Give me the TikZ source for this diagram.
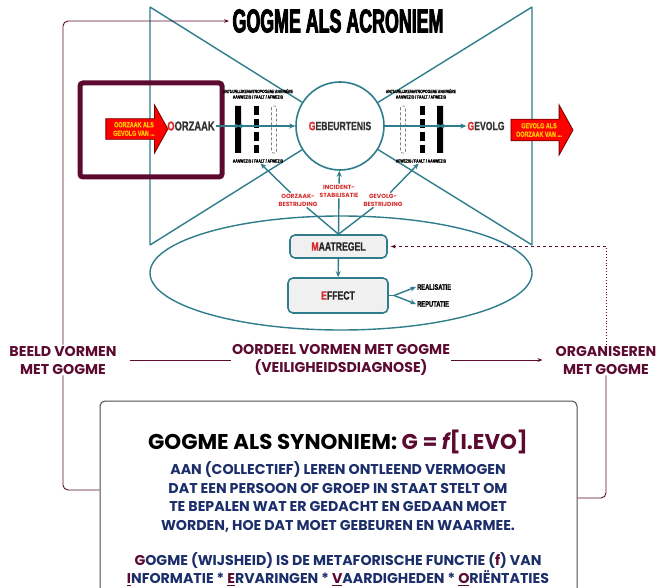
\documentclass[tikz,border=0pt]{standalone}
\usepackage{fontspec}
\setmainfont{Poppins}
\newfontfamily\smal[FakeStretch=0.72,FakeBold=1]{Liberation Sans Bold}
\newfontfamily\smali[FakeStretch=0.72,FakeBold=1]{Liberation Sans Bold Italic}
\newfontfamily\impact[FakeStretch=0.54,FakeBold=2.5]{Liberation Sans Bold}
\usetikzlibrary{arrows.meta,shapes.arrows}
\definecolor{petrol}{HTML}{2F7C8C}
\definecolor{wijn}{HTML}{5C0A30}
\definecolor{rood}{HTML}{D42A2A}
\definecolor{marine}{HTML}{1B2E6A}
\definecolor{balk}{HTML}{F0F0F0}
\newcommand\ond[1]{{\color{wijn}\underline{#1}}}
\tikzset{
  lijn/.style={petrol,line width=1.4pt},
  pijl/.style={lijn,-{Stealth[length=6pt,width=5pt]}},
  terug/.style={wijn,line width=0.9pt,rounded corners=5pt},
  kader/.style={draw=petrol,line width=1.6pt,fill=balk,rounded corners=5pt,
    font=\smal\fontsize{12}{12}\selectfont,text=black!85},
  rode/.style={single arrow,draw=red!45!black,fill=red,line width=.8pt,
    text={rgb,255:red,255;green,200;blue,0},align=center,inner sep=1pt,
    font=\smal\fontsize{7.5}{8.5}\selectfont,single arrow tip angle=122,
    single arrow head extend=11pt,single arrow head indent=0pt},
  stap/.style={text=rood,font=\bfseries\fontsize{6}{8}\selectfont,align=center,inner sep=1pt},
  klein/.style={font=\smal\fontsize{4.7}{5}\selectfont,inner sep=0.5pt},
  naam/.style={font=\smal\fontsize{12}{12}\selectfont,text=black!80,inner sep=1pt},
  kop/.style={wijn,font=\bfseries\fontsize{14.2}{18}\selectfont,align=center,inner sep=1pt},
  blauw/.style={marine,font=\bfseries\fontsize{14.2}{18.5}\selectfont,align=center}
}
\begin{document}
\begin{tikzpicture}[x=1pt,y=-1pt]
\useasboundingbox (0,0) rectangle (658,588);
% acroniem
\node[circle,draw=petrol,line width=1.6pt,minimum size=88pt,inner sep=0pt,naam] (ge) at (340,126) {{\color{rood}G}EBEURTENIS};
\draw[lijn] (150,7) -- (150,245) (532,7) -- (532,245)
  (150,7) -- (ge) (150,245) -- (ge) (532,7) -- (ge) (532,245) -- (ge);
\draw[lijn] (341,273) ellipse [x radius=191, y radius=57];
\node[font=\impact\fontsize{33}{33}\selectfont] (ac) at (338,21) {GOGME ALS ACRONIEM};
\draw[wijn,line width=5pt,rounded corners=3pt] (80,83) rectangle (222,177);
\node[naam,font=\smal\fontsize{13}{13}\selectfont] (oz) at (191,126) {{\color{rood}O}ORZAAK};
\node[naam] (gv) at (486,126) {{\color{rood}G}EVOLG};
\node[rode,minimum height=62pt,minimum width=48pt] (oa) at (134,129) {OORZAAK ALS\\GEVOLG VAN ...};
\node[rode,minimum height=62pt,minimum width=50pt] (ga) at (539,130) {GEVOLG ALS\\OORZAAK VAN ...};
% barrieres
\fill (235,106) rectangle (241,153) (437,106) rectangle (443,153);
\draw[line width=5pt,dash pattern=on 9pt off 4pt] (256,106) -- (256,153) (422,106) -- (422,153);
\draw[gray,densely dashed,line width=.6pt,rounded corners=1.5pt] (271.5,106) rectangle (276.5,153) (400.5,106) rectangle (405.5,153);
\node[klein,font=\smali\fontsize{4.7}{5}\selectfont] (lnat) at (258,91) {NATUURLIJKE/ANTROPOGENE BARRIÈRE};
\node[klein] (lsta) at (258,97) {AANWEZIG / FAALT / AFWEZIG};
\node[klein] (lond) at (258,161) {AANWEZIG / FAALT / AFWEZIG};
\node[klein,font=\smali\fontsize{4.7}{5}\selectfont] (rnat) at (421,91) {NATUURLIJKE/ANTROPOGENE BARRIÈRE};
\node[klein] (rsta) at (421,97) {AANWEZIG / FAALT / AFWEZIG};
\node[klein] (rond) at (421,161) {AFWEZIG / FAALT / AANWEZIG};
\draw[pijl] (oz) -- (ge);
\draw[pijl] (ge) -- (gv);
\fill[petrol] (236,126) circle[radius=2pt] (241,126) circle[radius=2pt]
  (438,126) circle[radius=2pt] (443,126) circle[radius=2pt];
% maatregel en effect
\node[kader,minimum width=97pt,minimum height=23pt] (mr) at (338.5,246.5) {{\color{rood}M}AATREGEL};
\node[kader,minimum width=100pt,minimum height=35pt] (ef) at (338,295.5) {{\color{rood}E}FFECT};
\draw[pijl] (mr) -- (ef);
\node[stap] (ob) at (298,200) {OORZAAK-\\BESTRIJDING};
\node[stap] (is) at (339,191) {INCIDENT-\\STABILISATIE};
\node[stap] (gb) at (383,200) {GEVOLG-\\BESTRIJDING};
\foreach \s/\d in {ob/lond,is/ge,gb/rond}{
  \draw[lijn] (mr.north) -- (\s);
  \draw[pijl] (\s) -- (\d);}
\coordinate (vork) at (394,295.5);
\node[naam,text=black,font=\smal\fontsize{8}{8}\selectfont,anchor=west] (re) at (416,287) {REALISATIE};
\node[naam,text=black,font=\smal\fontsize{8}{8}\selectfont,anchor=west] (rp) at (416,304) {REPUTATIE};
\draw[lijn] (ef) -- (vork);
\draw[pijl] (vork) -- (re.west);
\draw[pijl] (vork) -- (rp.west);
% gogme cyclus
\node[kop] (bv) at (63,360) {BEELD VORMEN\\MET GOGME};
\node[kop] (od) at (341,360) {OORDEEL VORMEN MET GOGME\\(VEILIGHEIDSDIAGNOSE)};
\node[kop] (og) at (606,360) {ORGANISEREN\\MET GOGME};
\draw[terug,shorten <=12pt] (bv) -- (od);
\draw[terug,shorten >=12pt,-{Stealth[length=5pt]}] (od) -- (og);
\node[draw=black!70,line width=1pt,rounded corners=5pt,minimum width=477pt,minimum height=230pt] (syn) at (338.5,516) {};
\draw[terug] (syn.west |- 0,490) -| (bv.south);
\draw[terug,-{Stealth[length=5pt]}] (bv.north) |- (ac.west);
\draw[terug] (syn.east |- 0,498) -| (og.south);
\coordinate (hoek) at (og.north |- mr);
\draw[wijn,line width=.9pt,dotted] (og.north) -- (hoek);
\draw[wijn,line width=.9pt,dashed,shorten >=3pt,-{Stealth[length=5pt]}] (hoek) -- (mr);
\node[font=\bfseries\fontsize{21.4}{21}\selectfont] (sk) at (338,442) {GOGME ALS SYNONIEM: {\color{wijn}G = {\itshape f}[I.EVO]}};
\node[blauw] (sd) at (338,497) {AAN (COLLECTIEF) LEREN ONTLEEND VERMOGEN\\DAT EEN PERSOON OF GROEP IN STAAT STELT OM\\TE BEPALEN WAT ER GEDACHT EN GEDAAN MOET\\WORDEN, HOE DAT MOET GEBEUREN EN WAARMEE.};
\node[blauw] (sg) at (338,569) {{\color{wijn}G}OGME (WIJSHEID) IS DE METAFORISCHE FUNCTIE ({\color{wijn}f}) VAN\\\ond{I}NFORMATIE * \ond{E}RVARINGEN * \ond{V}AARDIGHEDEN * \ond{O}RIËNTATIES};
\end{tikzpicture}
\end{document}
